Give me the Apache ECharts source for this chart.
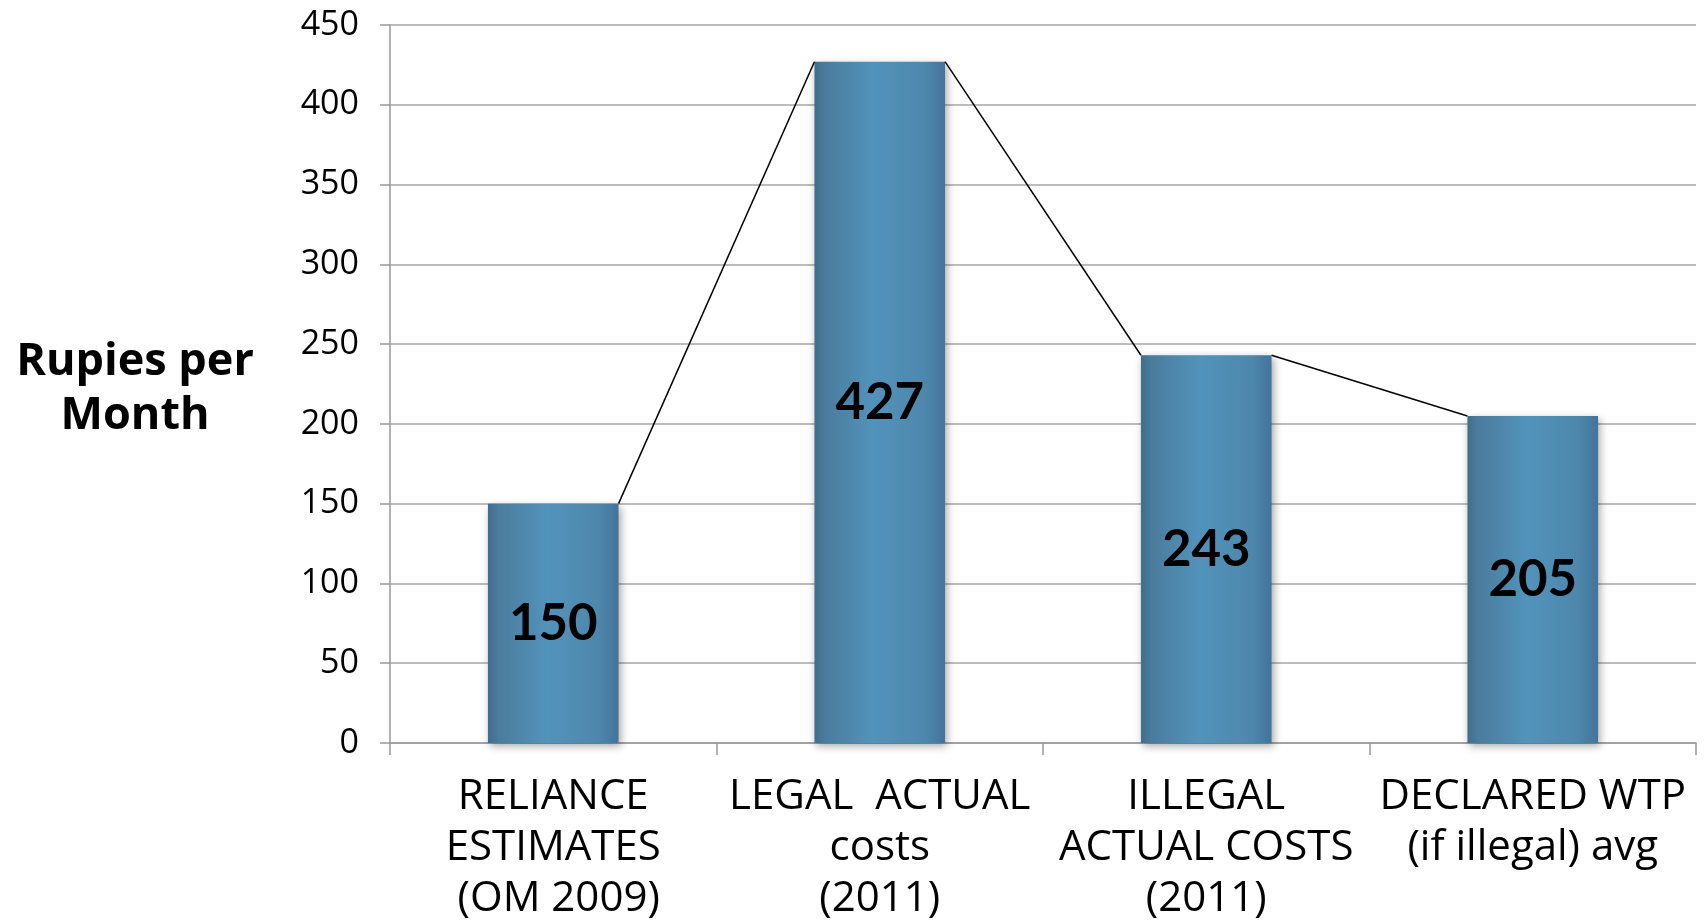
<!DOCTYPE html>
<html>
<head>
<meta charset="utf-8">
<style>
  html, body { margin: 0; padding: 0; background: #fff; }
  #chart { width: 1705px; height: 920px; }
</style>
<script src="https://cdn.jsdelivr.net/npm/echarts@6/dist/echarts.min.js"></script>
</head>
<body>
<div id="chart"></div>
<script>
// categories on the x axis
var categories = [
  'RELIANCE\nESTIMATES\n (OM 2009)',
  'LEGAL  ACTUAL\ncosts\n(2011)',
  'ILLEGAL\nACTUAL COSTS\n(2011)',
  'DECLARED WTP\n(if illegal) avg'
];
// rupies per month
var values = [150, 427, 243, 205];
// y axis ticks
var yMin = 0;
var yMax = 450;
var yStep = 50;

var barRatio = 0.4; // bar width as share of the category band

var chart = echarts.init(document.getElementById('chart'), null, { renderer: 'canvas' });

var option = {
  animation: false,
  title: {
    text: 'Rupies per\nMonth',
    left: 130,
    top: 330,
    textAlign: 'center',
    textStyle: {
      fontFamily: 'Open Sans',
      fontWeight: 'bold',
      fontSize: 45,
      lineHeight: 54,
      color: '#000'
    }
  },
  grid: {
    left: 390,
    right: 9,
    top: 25,
    bottom: 177,
    containLabel: false,
    outerBoundsMode: 'none'
  },
  xAxis: {
    type: 'category',
    data: categories,
    axisLine: { lineStyle: { color: '#999', width: 1.5 } },
    axisTick: {
      show: true,
      interval: 0,
      alignWithLabel: false,
      length: 12,
      lineStyle: { color: '#999', width: 1.5 }
    },
    axisLabel: {
      interval: 0,
      margin: 29,
      color: '#000',
      fontFamily: 'Open Sans',
      fontSize: 42,
      lineHeight: 51
    },
    splitLine: { show: false }
  },
  yAxis: {
    type: 'value',
    min: yMin,
    max: yMax,
    interval: yStep,
    axisLine: { show: true, lineStyle: { color: '#999', width: 1.5 } },
    axisTick: { show: true, length: 10, lineStyle: { color: '#999', width: 1.5 } },
    axisLabel: {
      margin: 31,
      color: '#000',
      fontFamily: 'Open Sans',
      fontSize: 34
    },
    splitLine: { show: true, lineStyle: { color: '#a6a6a6', width: 1.5 } }
  },
  series: [
    {
      type: 'bar',
      data: values,
      barWidth: (barRatio * 100) + '%',
      itemStyle: {
        color: new echarts.graphic.LinearGradient(0, 0, 1, 0, [
          { offset: 0, color: '#426d8c' },
          { offset: 0.08, color: '#4b7c9d' },
          { offset: 0.45, color: '#5293bb' },
          { offset: 0.85, color: '#4e87ac' },
          { offset: 1, color: '#44739a' }
        ]),
        shadowColor: 'rgba(0,0,0,0.35)',
        shadowBlur: 8,
        shadowOffsetX: 2,
        shadowOffsetY: 3
      },
      label: {
        show: true,
        position: 'inside',
        color: '#000',
        fontFamily: 'Lato',
        fontWeight: 'bold',
        fontSize: 51
      },
      z: 2
    },
    {
      // connector lines from one bar top corner to the next bar
      type: 'custom',
      data: values.map(function (v, i) { return [i, v]; }),
      encode: { x: 0, y: 1 },
      z: 3,
      silent: true,
      renderItem: function (params, api) {
        var i = params.dataIndex;
        if (i >= values.length - 1) return null;
        var half = api.size([1, 0])[0] * barRatio / 2;
        var p1 = api.coord([i, values[i]]);
        var p2 = api.coord([i + 1, values[i + 1]]);
        return {
          type: 'line',
          shape: { x1: p1[0] + half, y1: p1[1], x2: p2[0] - half, y2: p2[1] },
          style: { stroke: '#000', lineWidth: 1.5 }
        };
      }
    }
  ]
};

chart.setOption(option);
</script>
</body>
</html>
